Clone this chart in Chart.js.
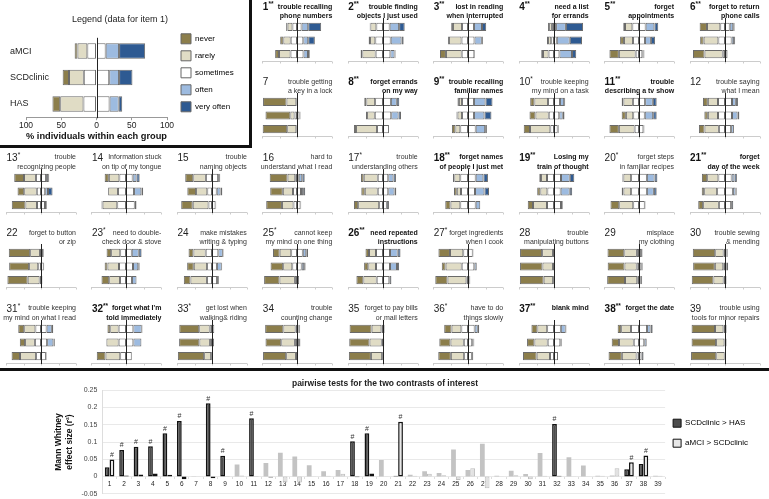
<!DOCTYPE html>
<html>
<head>
<meta charset="utf-8">
<script src="https://cdn.jsdelivr.net/npm/chart.js@4.4.1/dist/chart.umd.min.js"></script>
<style>
  body { margin: 0; background: #fff; font-family: "Liberation Sans", Arial, sans-serif; }
  #page { position: relative; width: 769px; height: 499px; overflow: hidden; }
  .cell { position: absolute; width: 86px; height: 75px; }
  .cell canvas { position: absolute; left: 0; top: 14px; }
  .num { position: absolute; left: 6.5px; top: 1px; font-size: 10px; color: #222; white-space: nowrap; filter: grayscale(1); }
  .num sup { font-size: 6.5px; vertical-align: top; position: relative; top: -1px; }
  .desc { position: absolute; right: 10px; top: 1.5px; font-size: 7px; line-height: 9.5px; text-align: right; color: #333; white-space: nowrap; filter: grayscale(1); }
  .strong .num, .strong .desc { font-weight: bold; color: #111; }
  .bar-v { position: absolute; left: 249px; top: 0; width: 3px; height: 148px; background: #111; }
  .bar-h { position: absolute; left: 0; top: 145px; width: 252px; height: 3px; background: #111; }
  .sep { position: absolute; left: 0; top: 368px; width: 769px; height: 3px; background: #111; }
  #legendChart { position: absolute; left: 0; top: 0; }
  #effectChart { position: absolute; left: 0; top: 372px; }
</style>
</head>
<body>
<div id="page">
  <canvas id="legendChart" width="248" height="145"></canvas>
  <div class="bar-v"></div>
  <div class="bar-h"></div>
  <div class="sep"></div>
  <canvas id="effectChart" width="769" height="131"></canvas>
</div>
<script>
// answer categories and groups
const groups = ["aMCI", "SCDclinic", "HAS"];
const levels = ["never", "rarely", "sometimes", "often", "very often"];
const levelColors = ["#8c7e4b", "#e0dcc5", "#ffffff", "#9dbbe0", "#2e5a92"];

// item labels
const itemNo = [1,2,3,4,5,6,7,8,9,10,11,12,13,14,15,16,17,18,19,20,21,22,23,24,25,26,27,28,29,30,31,32,33,34,35,36,37,38,39];
const itemStars = ["**","**","**","**","**","**","","**","**","*","**","","*","","","","*","**","**","*","**","","*","","*","**","*","","","","*","**","*","","","*","**","**",""];
const itemText = [
  ["trouble recalling", "phone numbers"], ["trouble finding", "objects I just used"], ["lost in reading", "when interrupted"],
  ["need a list", "for errands"], ["forget", "appointments"], ["forget to return", "phone calls"],
  ["trouble getting", "a key in a lock"], ["forget errands", "on my way"], ["trouble recalling", "familiar names"],
  ["trouble keeping", "my mind on a task"], ["trouble", "describing a tv show"], ["trouble saying", "what I mean"],
  ["trouble", "recognizing people"], ["Information stuck", "on tip of my tongue"], ["trouble", "naming objects"],
  ["hard to", "understand what I read"], ["trouble", "understanding others"], ["forget names", "of people I just met"],
  ["Losing my", "train of thought"], ["forget steps", "in familiar recipes"], ["forget", "day of the week"],
  ["forget to button", "or zip"], ["need to double-", "check door & stove"], ["make mistakes", "writing & typing"],
  ["cannot keep", "my mind on one thing"], ["need repeated", "instructions"], ["forget ingredients", "when I cook"],
  ["trouble", "manipulating buttons"], ["misplace", "my clothing"], ["trouble sewing", "& mending"],
  ["trouble keeping", "my mind on what I read"], ["forget what I'm", "told immediately"], ["get lost when", "walking& riding"],
  ["trouble", "counting change"], ["forget to pay bills", "or mail letters"], ["have to do", "things slowly"],
  ["blank mind"], ["forget the date"], ["trouble using", "tools for minor repairs"]
];

// % answering never / rarely / sometimes / often / very often, per item
const aMCI = [
  [4,14,26,19,37], [2,17,38,27,16], [5,26,34,23,12], [3,8,12,28,49], [5,21,38,25,11], [21,38,27,10,4],
  [67,28,4,0,1], [6,25,45,17,7], [4,9,34,33,20], [12,39,34,12,3], [5,27,35,22,11], [14,29,40,11,6],
  [28,34,29,6,3], [12,30,38,11,9], [23,36,35,3,3], [51,22,10,10,7], [8,40,30,15,7], [4,17,44,22,13],
  [5,17,40,25,13], [3,22,45,22,8], [15,32,38,8,7],
  [61,28,6,3,2], [13,26,33,20,8], [14,35,36,13,2], [19,33,33,10,5], [10,20,40,22,8], [33,38,27,2,0],
  [63,31,6,0,0], [48,36,12,4,0], [64,24,8,2,2],
  [17,32,32,15,4], [8,24,42,24,2], [57,30,13,0,0], [52,35,8,4,1], [63,28,9,0,0], [21,28,38,9,4],
  [17,28,39,14,2], [10,28,46,10,6], [67,24,9,0,0]
];
const scdClinic = [
  [9,21,36,14,19], [4,15,44,31,6], [3,36,37,21,3], [3,9,16,37,35], [11,26,34,17,12], [10,42,38,7,3],
  [71,12,14,3,0], [3,22,47,21,7], [3,13,34,30,20], [17,38,30,10,5], [12,21,33,24,10], [10,29,40,16,5],
  [19,36,24,8,13], [0,28,46,21,5], [25,32,27,11,5], [36,29,23,6,6], [10,37,30,18,5], [8,12,40,27,13],
  [9,20,38,26,7], [5,22,45,20,8], [7,37,45,8,3],
  [57,26,16,1,0], [8,33,40,15,4], [19,38,28,14,1], [36,26,27,7,4], [12,22,40,20,6], [11,46,36,7,0],
  [64,30,6,0,0], [48,35,13,4,0], [62,24,10,4,0],
  [15,28,35,18,4], [0,35,42,23,0], [58,30,12,0,0], [45,39,12,3,1], [58,35,7,0,0], [32,38,24,4,2],
  [21,38,36,4,1], [21,42,30,7,0], [70,24,3,0,3]
];
const has = [
  [11,33,37,13,5], [5,38,42,12,3], [17,45,36,0,2], [5,16,31,36,12], [27,48,19,3,3], [33,52,13,1,1],
  [70,26,4,0,0], [6,60,34,0,0], [10,14,44,27,5], [18,58,21,3,0], [27,45,25,3,0], [16,41,35,8,0],
  [39,33,23,5,0], [3,42,50,5,0], [33,45,20,2,0], [45,33,20,2,0], [12,60,22,6,0], [15,28,44,13,0],
  [15,40,40,5,0], [25,40,33,2,0], [14,45,35,6,0],
  [58,34,8,0,0], [22,31,34,13,0], [19,47,29,5,0], [44,44,12,0,0], [20,38,36,6,0], [35,54,9,2,0],
  [68,27,5,0,0], [51,35,10,1,3], [62,29,8,0,1],
  [24,46,28,2,0], [25,42,33,0,0], [75,20,5,0,0], [66,28,6,0,0], [63,32,5,0,0], [36,38,22,3,1],
  [39,38,23,0,0], [38,42,14,6,0], [72,24,2,0,2]
];

// Mann Whitney effect sizes (r^2) for the two contrasts
const effectScdHas = [0.027,0.077,0.086,0.088,0.125,0.161,0.001,0.212,0.060,0.035,0.169,0.039,0.069,0.058,0.033,0.015,0.019,0.102,0.125,0.048,0.002,0.005,0.015,0.010,0.078,0.019,0.095,0.002,0.017,0.007,0.068,0.152,0.056,0.032,0.002,0.003,0.021,0.036,0.002];
const effectAmciScd = [0.049,0.003,0.006,0.009,0.005,-0.008,0.001,-0.005,0.001,0.003,0.001,-0.004,-0.017,-0.017,0.001,0.002,0.008,-0.002,0.009,0.001,0.159,0.002,0.008,0.004,-0.010,0.024,-0.034,0.001,0.004,-0.008,0.002,0.002,0.001,0.001,0.002,0.024,0.041,0.061,0.002];
const highlighted = [1,2,3,4,5,6,8,9,11,18,19,21,32,37,38];
const hashScdHas = [2,3,4,5,6,8,9,11,18,19,32];
const hashAmciScd = [1,21,37,38];

Chart.defaults.font.family = '"Liberation Sans", Arial, sans-serif';
Chart.defaults.color = "#333";

// zero line + little axis below the bars
const divergingAxes = {
  id: "divergingAxes",
  afterDatasetsDraw(chart, args, opts) {
    const { ctx, chartArea: a, scales: { x } } = chart;
    ctx.save();
    if (opts.axis) {
      ctx.strokeStyle = "#cccccc";
      ctx.lineWidth = 1;
      ctx.beginPath();
      const yb = Math.round(a.bottom) + 0.5;
      ctx.moveTo(x.getPixelForValue(-100), yb);
      ctx.lineTo(x.getPixelForValue(100), yb);
      [-100, -50, 0, 50, 100].forEach(v => {
        const px = Math.round(x.getPixelForValue(v)) + 0.5;
        ctx.moveTo(px, yb);
        ctx.lineTo(px, yb + 2);
      });
      ctx.stroke();
    }
    ctx.strokeStyle = "#222";
    ctx.lineWidth = 1;
    const z = Math.round(x.getPixelForValue(0)) + 0.5;
    ctx.beginPath();
    ctx.moveTo(z, a.top - (opts.over || 0));
    ctx.lineTo(z, a.bottom + 1);
    ctx.stroke();
    ctx.restore();
  }
};

// moves a legend box relative to the chart area (and widens its clip box)
const legendNudge = {
  id: "legendNudge",
  afterLayout(chart, args, opts) {
    const lg = chart.legend, a = chart.chartArea;
    const h = lg.bottom - lg.top, w = lg.right - lg.left + (opts.extra || 0);
    lg.top = a.top + opts.dy; lg.bottom = lg.top + h;
    lg.left = a.right + opts.dx; lg.right = lg.left + w;
    lg.width = w; lg.height = h;
  }
};

function divergingSets(rows) {
  const seg = (k, sign, f) => rows.map(r => sign * r[k] * (f || 1));
  return [
    { label: "sometimes", data: seg(2, -1, 0.5), backgroundColor: levelColors[2] },
    { label: "rarely", data: seg(1, -1), backgroundColor: levelColors[1] },
    { label: "never", data: seg(0, -1), backgroundColor: levelColors[0] },
    { label: "sometimes", data: seg(2, 1, 0.5), backgroundColor: levelColors[2] },
    { label: "often", data: seg(3, 1), backgroundColor: levelColors[3] },
    { label: "very often", data: seg(4, 1), backgroundColor: levelColors[4] }
  ];
}

const barStyle = { categoryPercentage: 1, barPercentage: 0.6, borderWidth: 1, borderColor: "#6a6a6a", borderSkipped: false };

// legend panel (item 1)
new Chart(document.getElementById("legendChart"), {
  type: "bar",
  data: { labels: groups, datasets: divergingSets([aMCI[0], scdClinic[0], has[0]]) },
  options: {
    indexAxis: "y", responsive: false, animation: false, events: [],
    layout: { padding: { left: 26, right: 34, top: 0, bottom: 3 } },
    datasets: { bar: Object.assign({}, barStyle, { barPercentage: 0.58 }) },
    scales: {
      x: {
        stacked: true, min: -100, max: 100,
        grid: { drawOnChartArea: false, tickLength: 3, color: "#999" },
        border: { color: "#999" },
        ticks: { stepSize: 50, padding: 1, color: "#222", font: { size: 8.5, lineHeight: 1.1 }, callback: v => Math.abs(v) },
        title: { display: true, text: "% individuals within each group", color: "#111", font: { size: 9.5, weight: "bold", lineHeight: 1.1 }, padding: { top: 0, bottom: 0 } }
      },
      y: {
        stacked: true,
        grid: { display: false }, border: { display: false },
        ticks: { mirror: true, padding: -16, color: "#222", font: { size: 9 } },
        afterFit: s => { s.width = 0; }
      }
    },
    plugins: {
      title: { display: true, text: "Legend (data for item 1)", color: "#222", font: { size: 9, weight: "normal" }, padding: { top: 14, bottom: 13 } },
      legend: {
        position: "right", align: "start",
        labels: {
          boxWidth: 10, boxHeight: 10, padding: 7, color: "#222", font: { size: 8 },
          generateLabels: () => levels.map((t, i) => ({ text: t, fillStyle: levelColors[i], strokeStyle: "#666", lineWidth: 1 }))
        }
      },
      legendNudge: { dx: 7, dy: -11, extra: 30 },
      tooltip: { enabled: false },
      divergingAxes: { axis: false, over: 0 }
    }
  },
  plugins: [divergingAxes, legendNudge]
});

// one small panel per item
const cols = 9, cellW = 769 / 9, cellH = 75.4;
const page = document.getElementById("page");
itemNo.forEach((n, i) => {
  const slot = i < 12 ? (Math.floor(i / 6) * 9 + 3 + (i % 6)) : i + 6;
  const c = slot % cols, r = Math.floor(slot / cols);
  const cell = document.createElement("div");
  cell.className = "cell" + (itemStars[i] === "**" ? " strong" : "");
  cell.style.left = (c * cellW) + "px";
  cell.style.top = (r * cellH) + "px";
  cell.innerHTML = '<div class="num">' + n + '<sup>' + itemStars[i] + '</sup></div>' +
    '<div class="desc">' + itemText[i].map(t => t.replace(/&/g, "&amp;")).join("<br>") + '</div>' +
    '<canvas width="86" height="50"></canvas>';
  page.appendChild(cell);
  new Chart(cell.querySelector("canvas"), {
    type: "bar",
    data: { labels: groups, datasets: divergingSets([aMCI[i], scdClinic[i], has[i]]) },
    options: {
      indexAxis: "y", responsive: false, animation: false, events: [],
      layout: { padding: { left: 6, right: 10, top: 6, bottom: 3 } },
      datasets: { bar: barStyle },
      scales: {
        x: { display: false, stacked: true, min: -100, max: 100 },
        y: { display: false, stacked: true }
      },
      plugins: { legend: { display: false }, tooltip: { enabled: false }, divergingAxes: { axis: true, over: 2 } }
    },
    plugins: [divergingAxes]
  });
});

// effect size chart
const isHi = i => highlighted.includes(itemNo[i]);
const hashMarks = {
  id: "hashMarks",
  afterDatasetsDraw(chart) {
    const { ctx } = chart;
    const lists = [hashScdHas, hashAmciScd];
    ctx.save();
    ctx.fillStyle = "#333";
    ctx.font = '7px "Liberation Sans", Arial, sans-serif';
    ctx.textAlign = "center";
    ctx.textBaseline = "bottom";
    lists.forEach((list, d) => {
      chart.getDatasetMeta(d).data.forEach((bar, j) => {
        if (list.includes(itemNo[j])) ctx.fillText("#", bar.x, bar.y - 1);
      });
    });
    ctx.restore();
  }
};

new Chart(document.getElementById("effectChart"), {
  type: "bar",
  data: {
    labels: itemNo,
    datasets: [
      {
        label: "SCDclinic > HAS", data: effectScdHas,
        backgroundColor: itemNo.map((n, i) => isHi(i) ? "#4d4d4d" : "#c3c3c3"),
        borderColor: itemNo.map((n, i) => isHi(i) ? "#111" : "rgba(0,0,0,0)"),
        borderWidth: itemNo.map((n, i) => isHi(i) ? 1.5 : 0)
      },
      {
        label: "aMCI > SCDclinic", data: effectAmciScd,
        backgroundColor: itemNo.map((n, i) => isHi(i) ? "#e8e8e8" : "#e2e2e2"),
        borderColor: itemNo.map((n, i) => isHi(i) ? "#111" : "#bdbdbd"),
        borderWidth: itemNo.map((n, i) => isHi(i) ? 1.5 : 1)
      }
    ]
  },
  options: {
    responsive: false, animation: false, events: [],
    layout: { padding: { left: 8, right: 7, top: 0, bottom: 0 } },
    datasets: { bar: { categoryPercentage: 0.66, barPercentage: 1, borderSkipped: false } },
    scales: {
      x: {
        position: { y: 0 },
        grid: { drawOnChartArea: false, tickLength: 2, color: "#ddd" },
        border: { display: false },
        ticks: { color: "#222", font: { size: 6.5 }, padding: 2, maxRotation: 0, autoSkip: false }
      },
      y: {
        min: -0.05, max: 0.25,
        grid: { color: "#e9e9e9", drawTicks: false },
        border: { color: "#ddd" },
        ticks: { stepSize: 0.05, color: "#444", font: { size: 7 }, padding: 5, callback: v => String(+v.toFixed(2)) },
        title: { display: true, text: ["Mann Whitney", "effect size (r²)"], color: "#111", font: { size: 8.5, weight: "bold" }, padding: { top: 46, bottom: 2 } }
      }
    },
    plugins: {
      title: { display: true, text: "pairwise tests for the two contrasts of interest", color: "#222", font: { size: 8.5, weight: "bold" }, padding: { top: 7, bottom: 1 } },
      legend: {
        position: "right", align: "start",
        labels: {
          boxWidth: 8, boxHeight: 8, padding: 12, color: "#222", font: { size: 8 },
          generateLabels: () => [
            { text: "SCDclinic > HAS", fillStyle: "#4d4d4d", strokeStyle: "#111", lineWidth: 1 },
            { text: "aMCI > SCDclinic", fillStyle: "#e8e8e8", strokeStyle: "#111", lineWidth: 1 }
          ]
        }
      },
      legendNudge: { dx: -4, dy: 17, extra: 10 },
      tooltip: { enabled: false }
    }
  },
  plugins: [hashMarks, legendNudge]
});
</script>
</body>
</html>
